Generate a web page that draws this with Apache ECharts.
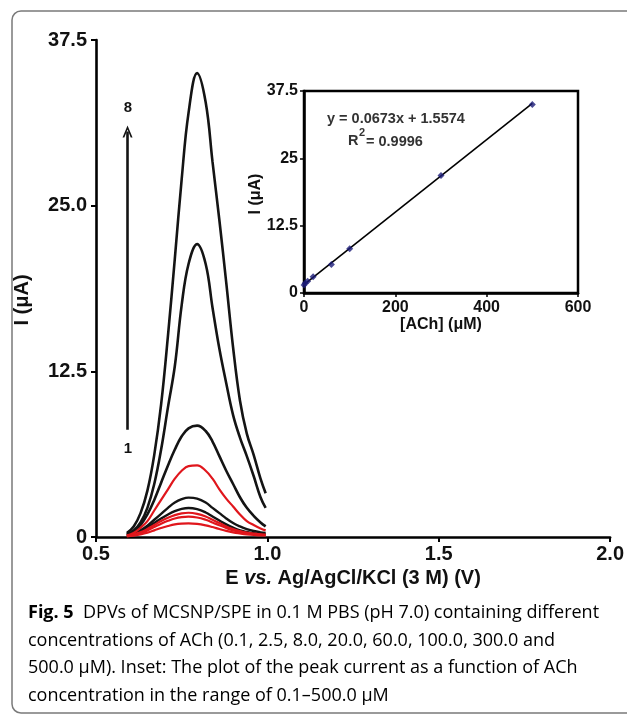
<!DOCTYPE html>
<html>
<head>
<meta charset="utf-8">
<script src="https://cdn.jsdelivr.net/npm/echarts@6/dist/echarts.min.js"></script>
<style>
  html, body { margin: 0; padding: 0; background: #fff; }
  #chart { width: 627px; height: 715px; }
</style>
</head>
<body>
<div id="chart"></div>
<script>
(function(){
    'use strict';

    // potential (V) grid shared by the DPV curves
    var potential = [0.59, 0.61, 0.63, 0.65, 0.67, 0.69, 0.71, 0.73, 0.75, 0.77, 0.795,
                     0.82, 0.84, 0.86, 0.88, 0.90, 0.92, 0.94, 0.96, 0.98, 0.995];

    // current (uA), lowest to highest
    var dpvRedA   = [0.05, 0.10, 0.20, 0.33, 0.50, 0.68, 0.83, 0.95, 1.01, 1.03, 0.99, 0.88, 0.75, 0.60, 0.46, 0.35, 0.27, 0.20, 0.15, 0.12, 0.10];
    var dpvRedB   = [0.08, 0.15, 0.30, 0.50, 0.75, 1.00, 1.22, 1.40, 1.50, 1.53, 1.47, 1.30, 1.10, 0.88, 0.68, 0.50, 0.38, 0.28, 0.22, 0.18, 0.15];
    var dpvRedC   = [0.10, 0.20, 0.35, 0.60, 0.90, 1.20, 1.45, 1.65, 1.78, 1.83, 1.75, 1.55, 1.30, 1.05, 0.80, 0.60, 0.45, 0.33, 0.25, 0.20, 0.18];
    var dpvBlackA = [0.10, 0.20, 0.40, 0.70, 1.05, 1.40, 1.70, 1.95, 2.12, 2.19, 2.10, 1.85, 1.55, 1.25, 0.95, 0.70, 0.50, 0.38, 0.28, 0.22, 0.20];
    var dpvBlackB = [0.10, 0.25, 0.50, 0.85, 1.30, 1.75, 2.20, 2.60, 2.85, 2.97, 2.90, 2.60, 2.20, 1.80, 1.40, 1.05, 0.80, 0.60, 0.45, 0.35, 0.30];
    var dpvRedD   = [0.10, 0.30, 0.70, 1.20, 2.00, 2.80, 3.60, 4.40, 5.00, 5.35, 5.40, 5.00, 4.40, 3.60, 2.90, 2.30, 1.70, 1.20, 0.90, 0.65, 0.50];
    var dpvBlackC = [0.15, 0.40, 0.90, 1.70, 2.80, 4.10, 5.40, 6.60, 7.60, 8.20, 8.40, 8.00, 7.20, 6.10, 5.00, 4.00, 3.00, 2.20, 1.60, 1.10, 0.80];
    var dpvBlackD = [0.20, 0.50, 1.10, 2.20, 4.00, 6.60, 9.80, 12.9, 17.5, 20.6, 22.1, 20.6, 17.3, 14.2, 11.6, 9.20, 7.50, 6.10, 4.60, 3.00, 2.20];
    var dpvBlackE = [0.30, 0.80, 1.80, 3.50, 6.20, 10.0, 15.2, 21.0, 27.0, 32.0, 35.0, 32.8, 28.3, 23.9, 19.2, 14.3, 10.3, 7.80, 6.20, 4.40, 3.30];

    // inset: peak current vs concentration
    var conc = [0.1, 2.5, 8.0, 20.0, 60.0, 100.0, 300.0, 500.0];
    var peakCurrent = [1.5, 1.8, 2.2, 3.0, 5.3, 8.2, 21.8, 35.0];
    var fitLine = [[0, 1.56], [500, 35.2]];

    var mainYTicks = ['0', '12.5', '25.0', '37.5'];
    var mainXTicks = ['0.5', '1.0', '1.5', '2.0'];
    var insetYTicks = ['0', '12.5', '25', '37.5'];
    var insetXTicks = ['0', '200', '400', '600'];

    var font = "'Liberation Sans', Arial, sans-serif";
    var capFont = "'Open Sans', 'Noto Sans', sans-serif";

    function pairs(ys){
        return potential.map(function(x, i){ return [x, ys[i]]; });
    }
    function curve(name, ys, color, width){
        return {
            name: name, type: 'line', xAxisIndex: 0, yAxisIndex: 0,
            data: pairs(ys), showSymbol: false, smooth: 0.4,
            lineStyle: {color: color, width: width}, z: 3
        };
    }

    var black = '#141414', red = '#e0161c';
    var series = [
        curve('8', dpvBlackE, black, 2.6),
        curve('7', dpvBlackD, black, 2.6),
        curve('6', dpvBlackC, black, 2.6),
        curve('4', dpvBlackB, black, 2.4),
        curve('3', dpvBlackA, black, 2.4),
        curve('5', dpvRedD, red, 2.2),
        curve('2', dpvRedC, red, 2.2),
        curve('1b', dpvRedB, red, 2.2),
        curve('1', dpvRedA, red, 2.2)
    ];
    // arrow 1 -> 8
    series[0].markLine = {
        silent: true, animation: false,
        symbol: ['none', 'path://M5,0 L10,11 L8.2,11 L5,3.6 L1.8,11 L0,11 Z'],
        symbolSize: [10, 12],
        lineStyle: {color: black, width: 2.6, type: 'solid'},
        label: {show: false},
        data: [[{coord: [0.592, 8.1]}, {coord: [0.592, 30.6]}]]
    };
    series.push({
        name: 'fit', type: 'line', xAxisIndex: 1, yAxisIndex: 1,
        data: fitLine, showSymbol: false,
        lineStyle: {color: '#000', width: 1.6}, z: 3
    });
    series.push({
        name: 'peak', type: 'scatter', xAxisIndex: 1, yAxisIndex: 1,
        data: conc.map(function(c, i){ return [c, peakCurrent[i]]; }),
        symbol: 'diamond', symbolSize: 7,
        itemStyle: {color: '#1c1c78'}, z: 4
    });

    var myChart = echarts.init(document.getElementById('chart'), null, {renderer: 'canvas'});
    var option = {
        backgroundColor: '#fff',
        animation: false,
        grid: [
            {left: 96, right: 9, top: 40, bottom: 178, containLabel: false},
            {left: 304, right: 49, top: 91, bottom: 422, show: true,
             borderColor: '#000', borderWidth: 2.5, backgroundColor: 'transparent'}
        ],
        xAxis: [
            {
                type: 'value', gridIndex: 0, min: 0.5, max: 2.0, interval: 0.5,
                splitLine: {show: false},
                axisLine: {onZero: false, lineStyle: {color: '#000', width: 2.6}},
                axisTick: {length: 5, lineStyle: {color: '#000', width: 2}},
                axisLabel: {
                    color: '#111', fontFamily: font, fontWeight: 'bold', fontSize: 20, margin: 7,
                    formatter: function(v, i){ return mainXTicks[i]; }
                },
                name: '{b|E }{i|vs.}{b| Ag/AgCl/KCl (3 M) (V)}',
                nameLocation: 'middle', nameGap: 31,
                nameTextStyle: {
                    rich: {
                        b: {fontFamily: font, fontWeight: 'bold', fontSize: 20, color: '#111'},
                        i: {fontFamily: font, fontWeight: 'bold', fontStyle: 'italic', fontSize: 20, color: '#111'}
                    }
                }
            },
            {
                type: 'value', gridIndex: 1, min: 0, max: 600, interval: 200,
                splitLine: {show: false},
                axisLine: {onZero: false, lineStyle: {color: '#000', width: 2.5}},
                axisTick: {length: 4, lineStyle: {color: '#000', width: 1.5}},
                axisLabel: {
                    color: '#111', fontFamily: font, fontWeight: 'bold', fontSize: 16, margin: 7,
                    formatter: function(v, i){ return insetXTicks[i]; }
                },
                name: '[ACh] (\u03bcM)', nameLocation: 'middle', nameGap: 24,
                nameTextStyle: {fontFamily: font, fontWeight: 'bold', fontSize: 16, color: '#111'}
            }
        ],
        yAxis: [
            {
                type: 'value', gridIndex: 0, min: 0, max: 37.5, interval: 12.5,
                splitLine: {show: false},
                axisLine: {onZero: false, lineStyle: {color: '#000', width: 2.6}},
                axisTick: {length: 5, lineStyle: {color: '#000', width: 2}},
                axisLabel: {
                    color: '#111', fontFamily: font, fontWeight: 'bold', fontSize: 20, margin: 9,
                    formatter: function(v, i){ return mainYTicks[i]; }
                }
            },
            {
                type: 'value', gridIndex: 1, min: 0, max: 37.5, interval: 12.5,
                splitLine: {show: false},
                axisLine: {onZero: false, lineStyle: {color: '#000', width: 2.5}},
                axisTick: {length: 4, lineStyle: {color: '#000', width: 1.5}},
                axisLabel: {
                    color: '#111', fontFamily: font, fontWeight: 'bold', fontSize: 16, margin: 6,
                    formatter: function(v, i){ return insetYTicks[i]; }
                }
            }
        ],
        graphic: [
            {type: 'rect', shape: {x: 12, y: 11, width: 660, height: 702, r: 9},
             style: {fill: 'none', stroke: '#7a7a7a', lineWidth: 1.5}, silent: true},
            {type: 'text', x: 22, y: 300, rotation: Math.PI / 2,
             style: {text: 'I (\u03bcA)', font: 'bold 20px ' + font, fill: '#111',
                     textAlign: 'center', textVerticalAlign: 'middle'}},
            {type: 'text', x: 256, y: 194, rotation: Math.PI / 2,
             style: {text: 'I (\u03bcA)', font: 'bold 16px ' + font, fill: '#111',
                     textAlign: 'center', textVerticalAlign: 'middle'}},
            {type: 'text', x: 128, y: 108,
             style: {text: '8', font: 'bold 15px ' + font, fill: '#111',
                     textAlign: 'center', textVerticalAlign: 'middle'}},
            {type: 'text', x: 128, y: 449,
             style: {text: '1', font: 'bold 15px ' + font, fill: '#111',
                     textAlign: 'center', textVerticalAlign: 'middle'}},
            {type: 'text', x: 327, y: 119,
             style: {text: 'y = 0.0673x + 1.5574', font: 'bold 14.5px ' + font, fill: '#333',
                     textAlign: 'left', textVerticalAlign: 'middle'}},
            {type: 'text', x: 348, y: 141,
             style: {text: 'R', font: 'bold 14.5px ' + font, fill: '#333',
                     textAlign: 'left', textVerticalAlign: 'middle'}},
            {type: 'text', x: 359, y: 133,
             style: {text: '2', font: 'bold 11px ' + font, fill: '#333',
                     textAlign: 'left', textVerticalAlign: 'middle'}},
            {type: 'text', x: 366, y: 142,
             style: {text: '= 0.9996', font: 'bold 14.5px ' + font, fill: '#333',
                     textAlign: 'left', textVerticalAlign: 'middle'}},
            {type: 'text', x: 28, y: 599,
             style: {
                 text: '{b|Fig. 5}{r|  DPVs of MCSNP/SPE in 0.1 M PBS (pH 7.0) containing different}\n' +
                       '{r|concentrations of ACh (0.1, 2.5, 8.0, 20.0, 60.0, 100.0, 300.0 and}\n' +
                       '{r|500.0 \u03bcM). Inset: The plot of the peak current as a function of ACh}\n' +
                       '{r|concentration in the range of 0.1\u2013500.0 \u03bcM}',
                 textVerticalAlign: 'top',
                 rich: {
                     b: {fontFamily: capFont, fontWeight: 'bold', fontSize: 18, color: '#231f20', lineHeight: 27.7},
                     r: {fontFamily: capFont, fontSize: 18, color: '#231f20', lineHeight: 27.7}
                 }
             }}
        ],
        series: series
    };
    myChart.setOption(option);
})();
</script>
</body>
</html>
